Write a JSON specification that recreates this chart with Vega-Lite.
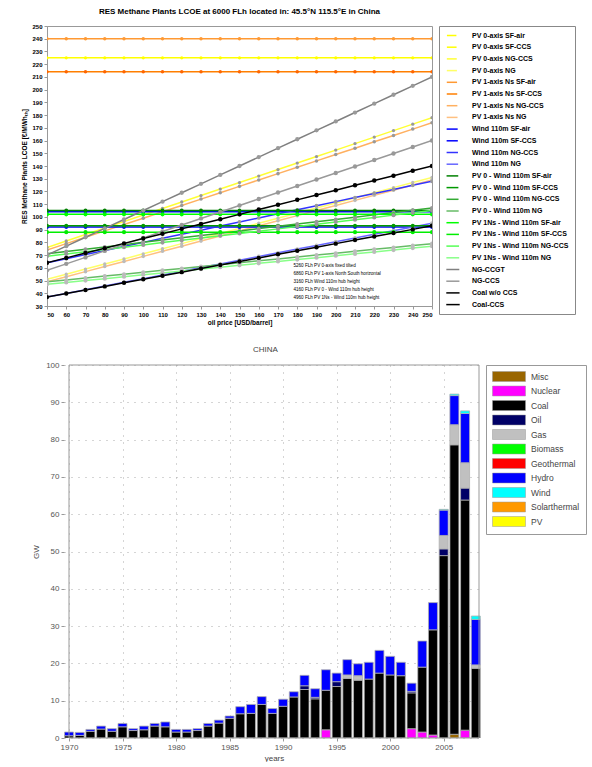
{
  "$schema": "https://vega.github.io/schema/vega-lite/v6.json",
  "padding": {"left": 20, "top": 7, "right": 2, "bottom": 0},
  "spacing": 20,
  "resolve": {"scale": {"color": "independent", "fill": "independent", "size": "independent", "x": "independent", "y": "independent"}, "legend": {"color": "independent"}},
  "config": {
    "font": "Liberation Sans",
    "view": {"stroke": "#999"},
    "axis": {"grid": false, "domainColor": "#999", "tickColor": "#999", "tickSize": 3, "labelOverlap": false},
    "title": {"font": "Liberation Sans"}
  },
  "datasets": {
    "lcoe": [
      {"p":50,"s1":253,"s2":225,"s3":76,"s4":51,"s5":240,"s6":214,"s7":74,"s8":49,"s9":104,"s10":92,"s11":64,"s12":37,"s13":105,"s14":93,"s15":71,"s16":49,"s17":102,"s18":88,"s19":69,"s20":47,"s21":70,"s22":58,"s23":37,"s24":64},
      {"p":60,"s1":253,"s2":225,"s3":81.1,"s4":55,"s5":240,"s6":214,"s7":79,"s8":53,"s9":104,"s10":92,"s11":67.2,"s12":39.9,"s13":105,"s14":93,"s15":72.8,"s16":50.5,"s17":102,"s18":88,"s19":70.8,"s20":48.5,"s21":77,"s22":63.1,"s23":39.8,"s24":67.8},
      {"p":70,"s1":253,"s2":225,"s3":86.2,"s4":59,"s5":240,"s6":214,"s7":84,"s8":57,"s9":104,"s10":92,"s11":70.4,"s12":42.8,"s13":105,"s14":93,"s15":74.6,"s16":52,"s17":102,"s18":88,"s19":72.6,"s20":50,"s21":84,"s22":68.2,"s23":42.6,"s24":71.6},
      {"p":80,"s1":253,"s2":225,"s3":91.3,"s4":63,"s5":240,"s6":214,"s7":89,"s8":61,"s9":104,"s10":92,"s11":73.6,"s12":45.7,"s13":105,"s14":93,"s15":76.4,"s16":53.5,"s17":102,"s18":88,"s19":74.4,"s20":51.5,"s21":91,"s22":73.3,"s23":45.4,"s24":75.4},
      {"p":90,"s1":253,"s2":225,"s3":96.4,"s4":67,"s5":240,"s6":214,"s7":94,"s8":65,"s9":104,"s10":92,"s11":76.8,"s12":48.6,"s13":105,"s14":93,"s15":78.2,"s16":55,"s17":102,"s18":88,"s19":76.2,"s20":53,"s21":98,"s22":78.4,"s23":48.2,"s24":79.2},
      {"p":100,"s1":253,"s2":225,"s3":101.5,"s4":71,"s5":240,"s6":214,"s7":99,"s8":69,"s9":104,"s10":92,"s11":80,"s12":51.5,"s13":105,"s14":93,"s15":80,"s16":56.5,"s17":102,"s18":88,"s19":78,"s20":54.5,"s21":105,"s22":83.5,"s23":51,"s24":83},
      {"p":110,"s1":253,"s2":225,"s3":106.6,"s4":75,"s5":240,"s6":214,"s7":104,"s8":73,"s9":104,"s10":92,"s11":83.2,"s12":54.4,"s13":105,"s14":93,"s15":81.8,"s16":58,"s17":102,"s18":88,"s19":79.8,"s20":56,"s21":112,"s22":88.6,"s23":53.8,"s24":86.8},
      {"p":120,"s1":253,"s2":225,"s3":111.7,"s4":79,"s5":240,"s6":214,"s7":109,"s8":77,"s9":104,"s10":92,"s11":86.4,"s12":57.3,"s13":105,"s14":93,"s15":83.6,"s16":59.5,"s17":102,"s18":88,"s19":81.6,"s20":57.5,"s21":119,"s22":93.7,"s23":56.6,"s24":90.6},
      {"p":130,"s1":253,"s2":225,"s3":116.8,"s4":83,"s5":240,"s6":214,"s7":114,"s8":81,"s9":104,"s10":92,"s11":89.6,"s12":60.2,"s13":105,"s14":93,"s15":85.4,"s16":61,"s17":102,"s18":88,"s19":83.4,"s20":59,"s21":126,"s22":98.8,"s23":59.4,"s24":94.4},
      {"p":140,"s1":253,"s2":225,"s3":121.9,"s4":87,"s5":240,"s6":214,"s7":119,"s8":85,"s9":104,"s10":92,"s11":92.8,"s12":63.1,"s13":105,"s14":93,"s15":87.2,"s16":62.5,"s17":102,"s18":88,"s19":85.2,"s20":60.5,"s21":133,"s22":103.9,"s23":62.2,"s24":98.2},
      {"p":150,"s1":253,"s2":225,"s3":127,"s4":91,"s5":240,"s6":214,"s7":124,"s8":89,"s9":104,"s10":92,"s11":96,"s12":66,"s13":105,"s14":93,"s15":89,"s16":64,"s17":102,"s18":88,"s19":87,"s20":62,"s21":140,"s22":109,"s23":65,"s24":102},
      {"p":160,"s1":253,"s2":225,"s3":132.1,"s4":95,"s5":240,"s6":214,"s7":129,"s8":93,"s9":104,"s10":92,"s11":99.2,"s12":68.9,"s13":105,"s14":93,"s15":90.8,"s16":65.5,"s17":102,"s18":88,"s19":88.8,"s20":63.5,"s21":147,"s22":114.1,"s23":67.8,"s24":105.8},
      {"p":170,"s1":253,"s2":225,"s3":137.2,"s4":99,"s5":240,"s6":214,"s7":134,"s8":97,"s9":104,"s10":92,"s11":102.4,"s12":71.8,"s13":105,"s14":93,"s15":92.6,"s16":67,"s17":102,"s18":88,"s19":90.6,"s20":65,"s21":154,"s22":119.2,"s23":70.6,"s24":109.6},
      {"p":180,"s1":253,"s2":225,"s3":142.3,"s4":103,"s5":240,"s6":214,"s7":139,"s8":101,"s9":104,"s10":92,"s11":105.6,"s12":74.7,"s13":105,"s14":93,"s15":94.4,"s16":68.5,"s17":102,"s18":88,"s19":92.4,"s20":66.5,"s21":161,"s22":124.3,"s23":73.4,"s24":113.4},
      {"p":190,"s1":253,"s2":225,"s3":147.4,"s4":107,"s5":240,"s6":214,"s7":144,"s8":105,"s9":104,"s10":92,"s11":108.8,"s12":77.6,"s13":105,"s14":93,"s15":96.2,"s16":70,"s17":102,"s18":88,"s19":94.2,"s20":68,"s21":168,"s22":129.4,"s23":76.2,"s24":117.2},
      {"p":200,"s1":253,"s2":225,"s3":152.5,"s4":111,"s5":240,"s6":214,"s7":149,"s8":109,"s9":104,"s10":92,"s11":112,"s12":80.5,"s13":105,"s14":93,"s15":98,"s16":71.5,"s17":102,"s18":88,"s19":96,"s20":69.5,"s21":175,"s22":134.5,"s23":79,"s24":121},
      {"p":210,"s1":253,"s2":225,"s3":157.6,"s4":115,"s5":240,"s6":214,"s7":154,"s8":113,"s9":104,"s10":92,"s11":115.2,"s12":83.4,"s13":105,"s14":93,"s15":99.8,"s16":73,"s17":102,"s18":88,"s19":97.8,"s20":71,"s21":182,"s22":139.6,"s23":81.8,"s24":124.8},
      {"p":220,"s1":253,"s2":225,"s3":162.7,"s4":119,"s5":240,"s6":214,"s7":159,"s8":117,"s9":104,"s10":92,"s11":118.4,"s12":86.3,"s13":105,"s14":93,"s15":101.6,"s16":74.5,"s17":102,"s18":88,"s19":99.6,"s20":72.5,"s21":189,"s22":144.7,"s23":84.6,"s24":128.6},
      {"p":230,"s1":253,"s2":225,"s3":167.8,"s4":123,"s5":240,"s6":214,"s7":164,"s8":121,"s9":104,"s10":92,"s11":121.6,"s12":89.2,"s13":105,"s14":93,"s15":103.4,"s16":76,"s17":102,"s18":88,"s19":101.4,"s20":74,"s21":196,"s22":149.8,"s23":87.4,"s24":132.4},
      {"p":240,"s1":253,"s2":225,"s3":172.9,"s4":127,"s5":240,"s6":214,"s7":169,"s8":125,"s9":104,"s10":92,"s11":124.8,"s12":92.1,"s13":105,"s14":93,"s15":105.2,"s16":77.5,"s17":102,"s18":88,"s19":103.2,"s20":75.5,"s21":203,"s22":154.9,"s23":90.2,"s24":136.2},
      {"p":250,"s1":253,"s2":225,"s3":178,"s4":131,"s5":240,"s6":214,"s7":174,"s8":129,"s9":104,"s10":92,"s11":128,"s12":95,"s13":105,"s14":93,"s15":107,"s16":79,"s17":102,"s18":88,"s19":105,"s20":77,"s21":210,"s22":160,"s23":93,"s24":140}
    ],
    "names": [
      {"k":"s1","name":"PV 0-axis SF-air"},
      {"k":"s2","name":"PV 0-axis SF-CCS"},
      {"k":"s3","name":"PV 0-axis NG-CCS"},
      {"k":"s4","name":"PV 0-axis NG"},
      {"k":"s5","name":"PV 1-axis Ns SF-air"},
      {"k":"s6","name":"PV 1-axis Ns SF-CCS"},
      {"k":"s7","name":"PV 1-axis Ns NG-CCS"},
      {"k":"s8","name":"PV 1-axis Ns NG"},
      {"k":"s9","name":"Wind 110m SF-air"},
      {"k":"s10","name":"Wind 110m SF-CCS"},
      {"k":"s11","name":"Wind 110m NG-CCS"},
      {"k":"s12","name":"Wind 110m NG"},
      {"k":"s13","name":"PV 0 - Wind 110m SF-air"},
      {"k":"s14","name":"PV 0 - Wind 110m SF-CCS"},
      {"k":"s15","name":"PV 0 - Wind 110m NG-CCS"},
      {"k":"s16","name":"PV 0 - Wind 110m NG"},
      {"k":"s17","name":"PV 1Ns - Wind 110m SF-air"},
      {"k":"s18","name":"PV 1Ns - Wind 110m SF-CCS"},
      {"k":"s19","name":"PV 1Ns - Wind 110m NG-CCS"},
      {"k":"s20","name":"PV 1Ns - Wind 110m NG"},
      {"k":"s21","name":"NG-CCGT"},
      {"k":"s22","name":"NG-CCS"},
      {"k":"s23","name":"Coal w/o CCS"},
      {"k":"s24","name":"Coal-CCS"}
    ],
    "notes": [
      {"t":"5260 FLh PV 0-axis fixed tilted\n6860 FLh PV 1-axis North South horizontal\n3160 FLh Wind 110m hub height\n4160 FLh PV 0 - Wind 110m hub height\n4960 FLh PV 1Ns - Wind 110m hub height"}
    ],
    "gen": [
      {"year":1970,"Coal":0.6,"Hydro":1.0},
      {"year":1971,"Coal":0.7,"Hydro":0.8},
      {"year":1972,"Coal":1.8,"Hydro":0.5},
      {"year":1973,"Coal":2.4,"Hydro":0.8},
      {"year":1974,"Coal":1.8,"Hydro":0.7},
      {"year":1975,"Coal":3.0,"Hydro":0.9},
      {"year":1976,"Coal":2.0,"Hydro":0.5},
      {"year":1977,"Coal":2.2,"Hydro":1.0},
      {"year":1978,"Coal":3.2,"Hydro":0.7},
      {"year":1979,"Coal":3.0,"Hydro":1.3},
      {"year":1980,"Coal":1.6,"Hydro":0.7},
      {"year":1981,"Coal":1.6,"Hydro":0.7},
      {"year":1982,"Coal":2.0,"Hydro":0.5},
      {"year":1983,"Coal":3.2,"Hydro":0.7},
      {"year":1984,"Coal":4.0,"Hydro":0.8},
      {"year":1985,"Coal":5.3,"Hydro":0.6},
      {"year":1986,"Coal":6.5,"Hydro":1.9},
      {"year":1987,"Coal":6.6,"Hydro":2.4},
      {"year":1988,"Coal":9.0,"Hydro":2.1},
      {"year":1989,"Coal":6.6,"Hydro":1.3},
      {"year":1990,"Coal":8.5,"Hydro":1.9},
      {"year":1991,"Coal":11.0,"Hydro":1.4},
      {"year":1992,"Coal":13.0,"Oil":1.0,"Hydro":2.8},
      {"year":1993,"Coal":10.5,"Oil":0.4,"Hydro":2.3},
      {"year":1994,"Nuclear":2.2,"Coal":10.6,"Hydro":5.5},
      {"year":1995,"Coal":13.8,"Oil":1.3,"Hydro":2.3},
      {"year":1996,"Coal":16.0,"Gas":0.9,"Hydro":4.1},
      {"year":1997,"Coal":15.5,"Gas":1.2,"Hydro":3.2},
      {"year":1998,"Coal":15.8,"Hydro":4.5},
      {"year":1999,"Coal":17.4,"Hydro":6.1},
      {"year":2000,"Coal":16.9,"Hydro":5.0},
      {"year":2001,"Coal":16.7,"Hydro":3.6},
      {"year":2002,"Nuclear":2.5,"Coal":9.6,"Oil":0.4,"Hydro":2.2},
      {"year":2003,"Nuclear":1.6,"Coal":17.4,"Hydro":7.0},
      {"year":2004,"Nuclear":0.8,"Coal":28.2,"Hydro":7.3},
      {"year":2005,"Coal":48.9,"Oil":1.8,"Gas":3.6,"Hydro":6.8,"Wind":0.2},
      {"year":2006,"Misc":1.0,"Coal":77.6,"Gas":5.4,"Hydro":7.8,"Wind":0.4},
      {"year":2007,"Nuclear":2.1,"Coal":61.7,"Oil":3.2,"Gas":6.8,"Hydro":13.2,"Wind":0.7},
      {"year":2008,"Coal":18.7,"Gas":0.9,"Hydro":12.2,"Wind":0.9}
    ],
    "srcorder": [
      {"source":"Misc","i":1},{"source":"Nuclear","i":2},{"source":"Coal","i":3},{"source":"Oil","i":4},
      {"source":"Gas","i":5},{"source":"Biomass","i":6},{"source":"Geothermal","i":7},{"source":"Hydro","i":8},
      {"source":"Wind","i":9},{"source":"Solarthermal","i":10},{"source":"PV","i":11}
    ]
  },
  "vconcat": [
    {
      "width": 385,
      "height": 280,
      "title": {"text": "RES Methane Plants LCOE at 6000 FLh located in: 45.5°N 115.5°E  in China", "fontSize": 8, "fontWeight": "bold", "offset": 7, "color": "#000"},
      "layer": [
        {
          "data": {"name": "lcoe"},
          "transform": [
            {"fold": ["s1","s2","s3","s4","s5","s6","s7","s8","s9","s10","s11","s12","s13","s14","s15","s16","s17","s18","s19","s20","s21","s22","s23","s24"], "as": ["k","v"]},
            {"lookup": "k", "from": {"data": {"name": "names"}, "key": "k", "fields": ["name"]}}
          ],
          "encoding": {
            "x": {"field": "p", "type": "quantitative", "scale": {"domain": [50, 250], "nice": false, "zero": false},
              "axis": {"values": [50,60,70,80,90,100,110,120,130,140,150,160,170,180,190,200,210,220,230,240,250], "labelOverlap": false, "title": "oil price [USD/barrel]", "labelFontSize": 6, "labelFontWeight": "bold", "labelColor": "#000", "titleFontSize": 6.5, "titleFontWeight": "bold", "titleColor": "#000", "titlePadding": 2, "labelPadding": 2}},
            "y": {"field": "v", "type": "quantitative", "scale": {"domain": [30, 250], "nice": false, "zero": false},
              "axis": {"values": [30,40,50,60,70,80,90,100,110,120,130,140,150,160,170,180,190,200,210,220,230,240,250], "labelOverlap": false, "title": "RES Methane Plants LCOE [€/MWhₜₕ]", "titleX": -20, "labelFontSize": 6, "labelFontWeight": "bold", "labelColor": "#000", "titleFontSize": 6.5, "titleFontWeight": "bold", "titleColor": "#000", "labelPadding": 2}}
          },
          "layer": [
            {
              "mark": {"type": "line", "strokeWidth": 1.5, "clip": true},
              "encoding": {
                "color": {"field": "name", "type": "nominal",
                  "scale": {
                    "domain": ["PV 0-axis SF-air","PV 0-axis SF-CCS","PV 0-axis NG-CCS","PV 0-axis NG","PV 1-axis Ns SF-air","PV 1-axis Ns SF-CCS","PV 1-axis Ns NG-CCS","PV 1-axis Ns NG","Wind 110m SF-air","Wind 110m SF-CCS","Wind 110m NG-CCS","Wind 110m NG","PV 0 - Wind 110m SF-air","PV 0 - Wind 110m SF-CCS","PV 0 - Wind 110m NG-CCS","PV 0 - Wind 110m NG","PV 1Ns - Wind 110m SF-air","PV 1Ns - Wind 110m SF-CCS","PV 1Ns - Wind 110m NG-CCS","PV 1Ns - Wind 110m NG","NG-CCGT","NG-CCS","Coal w/o CCS","Coal-CCS"],
                    "range": ["#FFFF00","#FFFF00","#FFFF33","#FFFF66","#FF9933","#FF7F00","#FFB060","#FFC080","#0000FF","#0000FF","#3333FF","#6666FF","#008000","#009900","#33AA33","#66BB66","#00FF00","#00EE00","#55FF55","#88FF88","#808080","#999999","#000000","#000000"]
                  },
                  "legend": {"title": null, "orient": "right", "offset": 7, "padding": 6, "strokeColor": "#888", "fillColor": "#fff", "labelFontSize": 7, "labelFontWeight": "bold", "labelColor": "#000", "symbolType": "M-1,0H5", "symbolSize": 64, "symbolStrokeWidth": 1.5, "rowPadding": 3.7, "labelOffset": 20, "labelLimit": 200}
                }
              }
            },
            {
              "mark": {"type": "point", "filled": true, "clip": true, "opacity": 1},
              "encoding": {
                "fill": {"field": "name", "type": "nominal", "legend": null,
                  "scale": {
                    "domain": ["PV 0-axis SF-air","PV 0-axis SF-CCS","PV 0-axis NG-CCS","PV 0-axis NG","PV 1-axis Ns SF-air","PV 1-axis Ns SF-CCS","PV 1-axis Ns NG-CCS","PV 1-axis Ns NG","Wind 110m SF-air","Wind 110m SF-CCS","Wind 110m NG-CCS","Wind 110m NG","PV 0 - Wind 110m SF-air","PV 0 - Wind 110m SF-CCS","PV 0 - Wind 110m NG-CCS","PV 0 - Wind 110m NG","PV 1Ns - Wind 110m SF-air","PV 1Ns - Wind 110m SF-CCS","PV 1Ns - Wind 110m NG-CCS","PV 1Ns - Wind 110m NG","NG-CCGT","NG-CCS","Coal w/o CCS","Coal-CCS"],
                    "range": ["#FFFF00","#FFFF00","#999999","#BBBBBB","#FF9933","#FF6600","#999999","#BBBBBB","#0000FF","#0000FF","#999999","#BBBBBB","#008000","#009900","#999999","#BBBBBB","#00FF00","#00EE00","#999999","#BBBBBB","#999999","#999999","#000000","#000000"]
                  }},
                "size": {"field": "name", "type": "nominal", "legend": null,
                  "scale": {
                    "domain": ["PV 0-axis SF-air","PV 0-axis SF-CCS","PV 0-axis NG-CCS","PV 0-axis NG","PV 1-axis Ns SF-air","PV 1-axis Ns SF-CCS","PV 1-axis Ns NG-CCS","PV 1-axis Ns NG","Wind 110m SF-air","Wind 110m SF-CCS","Wind 110m NG-CCS","Wind 110m NG","PV 0 - Wind 110m SF-air","PV 0 - Wind 110m SF-CCS","PV 0 - Wind 110m NG-CCS","PV 0 - Wind 110m NG","PV 1Ns - Wind 110m SF-air","PV 1Ns - Wind 110m SF-CCS","PV 1Ns - Wind 110m NG-CCS","PV 1Ns - Wind 110m NG","NG-CCGT","NG-CCS","Coal w/o CCS","Coal-CCS"],
                    "range": [10,20,14,10,10,25,14,10,10,20,14,10,10,20,14,10,15,25,14,10,6,10,12,30]
                  }}
              }
            }
          ]
        },
        {
          "data": {"name": "notes"},
          "mark": {"type": "text", "fontSize": 4.6, "align": "left", "baseline": "top", "lineBreak": "\n", "lineHeight": 8, "color": "#000"},
          "encoding": {
            "x": {"datum": 178, "type": "quantitative",
              "axis": {"values": [50,60,70,80,90,100,110,120,130,140,150,160,170,180,190,200,210,220,230,240,250], "labelOverlap": false, "title": "oil price [USD/barrel]", "labelFontSize": 6, "labelFontWeight": "bold", "labelColor": "#000", "titleFontSize": 6.5, "titleFontWeight": "bold", "titleColor": "#000", "titlePadding": 2, "labelPadding": 2}},
            "y": {"datum": 64, "type": "quantitative",
              "axis": {"values": [30,40,50,60,70,80,90,100,110,120,130,140,150,160,170,180,190,200,210,220,230,240,250], "labelOverlap": false, "title": "RES Methane Plants LCOE [€/MWhₜₕ]", "titleX": -20, "labelFontSize": 6, "labelFontWeight": "bold", "labelColor": "#000", "titleFontSize": 6.5, "titleFontWeight": "bold", "titleColor": "#000", "labelPadding": 2}},
            "text": {"field": "t"}
          }
        }
      ]
    },
    {
      "width": 437,
      "height": 373,
      "view": {"stroke": null},
      "title": {"text": "CHINA", "fontSize": 8, "fontWeight": "normal", "offset": 7, "color": "#444"},
      "layer": [
        {
          "data": {"name": "gen"},
          "transform": [
            {"fold": ["Misc","Nuclear","Coal","Oil","Gas","Hydro","Wind"], "as": ["source","gw"]},
            {"filter": "datum.gw > 0"},
            {"lookup": "source", "from": {"data": {"name": "srcorder"}, "key": "source", "fields": ["i"]}}
          ],
          "mark": {"type": "bar", "size": 9, "stroke": "#b0b0b0", "strokeWidth": 0.8, "clip": true},
          "encoding": {
            "x": {"field": "year", "type": "quantitative", "scale": {"domain": [1970, 2008.3], "range": [17, 437], "nice": false, "zero": false},
              "axis": {"values": [1970,1975,1980,1985,1990,1995,2000,2005], "labelOverlap": false, "format": "d", "title": "years", "domain": false, "grid": true, "gridDash": [1,6], "gridColor": "#aaa", "labelFontSize": 8, "labelColor": "#555", "titleFontSize": 8, "titleFontWeight": "normal", "titleColor": "#444", "titlePadding": 3, "titleX": 227}},
            "y": {"field": "gw", "type": "quantitative", "stack": "zero", "scale": {"domain": [0, 100], "nice": false},
              "axis": {"values": [0,10,20,30,40,50,60,70,80,90,100], "labelOverlap": false, "title": "GW", "offset": -17, "domain": false, "titleX": -24, "grid": true, "gridDash": [1,6], "gridColor": "#aaa", "labelFontSize": 8, "labelColor": "#555", "titleFontSize": 8, "titleFontWeight": "normal", "titleColor": "#444"}},
            "color": {"field": "source", "type": "nominal",
              "scale": {"domain": ["Misc","Nuclear","Coal","Oil","Gas","Biomass","Geothermal","Hydro","Wind","Solarthermal","PV"],
                        "range": ["#996600","#FF00FF","#000000","#000066","#C0C0C0","#00FF00","#FF0000","#0000FF","#00FFFF","#FF9900","#FFFF00"]},
              "legend": {"title": null, "orient": "right", "offset": 2, "padding": 6, "strokeColor": "#999", "fillColor": "#fff", "labelFontSize": 8.5, "labelColor": "#444", "symbolType": "M-1,-1H5.6V1H-1Z", "symbolSize": 100, "symbolStrokeColor": "#999", "symbolStrokeWidth": 0.5, "rowPadding": 1.5, "labelOffset": 28}},
            "order": {"field": "i", "type": "quantitative", "sort": "ascending"}
          }
        },
        {
          "data": {"values": [{}]},
          "mark": {"type": "rect", "fill": "transparent", "stroke": "#999", "strokeWidth": 1},
          "encoding": {
            "x": {"datum": 1970, "type": "quantitative",
              "axis": {"values": [1970,1975,1980,1985,1990,1995,2000,2005], "labelOverlap": false, "format": "d", "title": "years", "domain": false, "grid": true, "gridDash": [1,6], "gridColor": "#aaa", "labelFontSize": 8, "labelColor": "#555", "titleFontSize": 8, "titleFontWeight": "normal", "titleColor": "#444", "titlePadding": 3, "titleX": 227}},
            "x2": {"datum": 2008.3},
            "y": {"datum": 0, "type": "quantitative",
              "axis": {"values": [0,10,20,30,40,50,60,70,80,90,100], "labelOverlap": false, "title": "GW", "offset": -17, "domain": false, "titleX": -24, "grid": true, "gridDash": [1,6], "gridColor": "#aaa", "labelFontSize": 8, "labelColor": "#555", "titleFontSize": 8, "titleFontWeight": "normal", "titleColor": "#444"}},
            "y2": {"datum": 100}
          }
        }
      ]
    }
  ]
}
